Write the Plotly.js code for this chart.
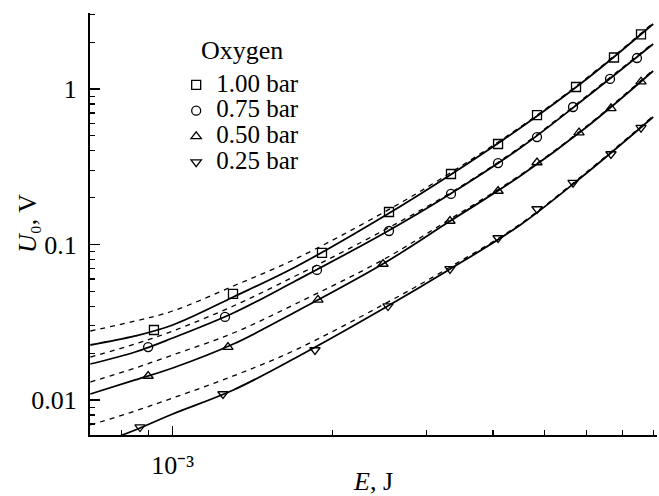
<!DOCTYPE html>
<html>
<head>
<meta charset="utf-8">
<script src="https://cdn.plot.ly/plotly-3.0.1.min.js"></script>
<style>
html,body{margin:0;padding:0;background:#fff}
#chart{width:659px;height:496px}
#chart text.legendtext{font-size:25px !important;font-family:'Liberation Serif',serif !important}
#chart g.legend g.scrollbox{clip-path:none !important}
</style>
</head>
<body>
<div id="chart"></div>
<script>
// Measured points (E in J, U0 in V)
const seriesNames = ['1.00 bar', '0.75 bar', '0.50 bar', '0.25 bar'];
const E_sq = [0.000922, 0.001298, 0.001908, 0.002550, 0.003335, 0.004088, 0.004839, 0.005729, 0.006752, 0.007590];
const U_sq = [0.0282, 0.0481, 0.0882, 0.1618, 0.284, 0.443, 0.680, 1.030, 1.594, 2.248];
const E_ci = [0.000899, 0.001254, 0.001867, 0.002550, 0.003335, 0.004088, 0.004839, 0.005655, 0.006637, 0.007458];
const U_ci = [0.0219, 0.0342, 0.0686, 0.1221, 0.2113, 0.334, 0.491, 0.766, 1.160, 1.582];
const E_tu = [0.000899, 0.001270, 0.001875, 0.002485, 0.003320, 0.004088, 0.004839, 0.005804, 0.006665, 0.007590];
const U_tu = [0.01427, 0.0219, 0.0440, 0.0749, 0.1416, 0.2208, 0.3368, 0.5236, 0.751, 1.114];
const E_td = [0.000868, 0.001243, 0.001851, 0.002539, 0.003320, 0.004088, 0.004839, 0.005655, 0.006665, 0.007590];
const U_td = [0.0067, 0.01093, 0.02097, 0.0402, 0.0696, 0.1101, 0.1692, 0.2496, 0.382, 0.5638];

// Curves (solid = fit, dashed = second model)
const E_curve = [0.0007, 0.00085, 0.001, 0.0013, 0.0017, 0.0025, 0.0033, 0.0045, 0.006, 0.008];
const fitSq  = [0.02258, 0.02580, 0.03036, 0.04597, 0.07166, 0.1525, 0.2758, 0.5613, 1.160, 2.618];
const dashSq = [0.02778, 0.03221, 0.03735, 0.05408, 0.08067, 0.1618, 0.2840, 0.5697, 1.177, 2.657];
const fitCi  = [0.01704, 0.02035, 0.02504, 0.03626, 0.05826, 0.1186, 0.2081, 0.4174, 0.8884, 1.947];
const dashCi = [0.01890, 0.02291, 0.02778, 0.04022, 0.06271, 0.1240, 0.2113, 0.4236, 0.9016, 1.976];
const fitTu  = [0.01093, 0.01345, 0.01606, 0.02291, 0.03680, 0.07603, 0.1395, 0.2758, 0.5697, 1.305];
const dashTu = [0.01305, 0.01606, 0.01948, 0.02697, 0.04144, 0.08067, 0.1437, 0.2799, 0.5782, 1.325];
const fitTd  = [0.004985, 0.006413, 0.008128, 0.0116, 0.01863, 0.03904, 0.06855, 0.1335, 0.2883, 0.6605];
const dashTd = [0.006906, 0.0085, 0.0103, 0.01427, 0.02097, 0.04144, 0.07062, 0.1355, 0.2925, 0.6705];

// Tick labels
const yTickVals = [0.01, 0.1, 1];
const yTickText = ['0.01', '0.1', '1'];
const yMinorVals = [0.006, 0.007, 0.008, 0.009, 0.02, 0.03, 0.04, 0.05, 0.06, 0.07, 0.08, 0.09,
                    0.2, 0.3, 0.4, 0.5, 0.6, 0.7, 0.8, 0.9, 2, 3];
const xTickVals = [0.001];
const xTickText = ['10⁻³'];
const xMinorVals = [0.0008, 0.0009, 0.002, 0.003, 0.004, 0.005, 0.006, 0.007, 0.008];

const FONT = 'Liberation Serif';
const FS = 26;
const symbols = ['square-open', 'circle-open', 'triangle-up-open', 'triangle-down-open'];
const pts = [[E_sq, U_sq], [E_ci, U_ci], [E_tu, U_tu], [E_td, U_td]];
const fits = [fitSq, fitCi, fitTu, fitTd];
const dashes = [dashSq, dashCi, dashTu, dashTd];

const traces = [];
for (let i = 0; i < 4; i++) {
  traces.push({
    x: E_curve, y: dashes[i], mode: 'lines', showlegend: false, hoverinfo: 'skip',
    line: {color: '#000', width: 1.3, dash: '5px,5px', shape: 'spline', smoothing: 1}
  });
  traces.push({
    x: E_curve, y: fits[i], mode: 'lines', showlegend: false, hoverinfo: 'skip',
    line: {color: '#000', width: 1.8, shape: 'spline', smoothing: 1}
  });
}
for (let i = 0; i < 4; i++) {
  traces.push({
    x: pts[i][0], y: pts[i][1], mode: 'markers', name: seriesNames[i],
    marker: {symbol: symbols[i], size: 9, color: '#000', line: {color: '#000', width: 1.3}},
    cliponaxis: false
  });
}

const layout = {
  width: 659, height: 496,
  margin: {l: 90, r: 2, t: 13, b: 61},
  paper_bgcolor: '#fff', plot_bgcolor: '#fff',
  font: {family: FONT, size: FS, color: '#000'},
  showlegend: true,
  legend: {
    x: 0.152, y: 0.872, xanchor: 'left', yanchor: 'top',
    bgcolor: 'rgba(0,0,0,0)', borderwidth: 0,
    font: {family: FONT, size: 17.5, color: '#000'},
    itemsizing: 'trace'
  },
  xaxis: {
    type: 'log',
    range: [-3.1555, -2.0897],
    showline: true, linecolor: '#000', linewidth: 2, mirror: false,
    showgrid: false, zeroline: false,
    tickmode: 'array', tickvals: xTickVals, ticktext: xTickText,
    ticks: 'inside', ticklen: 9, tickwidth: 1.5, tickcolor: '#000',
    tickfont: {family: FONT, size: FS, color: '#000'},
    ticklabelstandoff: 6,
    minor: {tickmode: 'array', tickvals: xMinorVals, ticks: 'inside', ticklen: 5, tickwidth: 1.2, tickcolor: '#000', showgrid: false},
    title: {text: '<i>E</i>, J', font: {family: FONT, size: FS, color: '#000'}, standoff: 4}
  },
  yaxis: {
    type: 'log',
    range: [-2.2251, 0.4887],
    showline: true, linecolor: '#000', linewidth: 2, mirror: false,
    showgrid: false, zeroline: false,
    tickmode: 'array', tickvals: yTickVals, ticktext: yTickText,
    ticks: 'inside', ticklen: 10, tickwidth: 1.5, tickcolor: '#000',
    tickfont: {family: FONT, size: FS, color: '#000'},
    ticklabelstandoff: 6,
    minor: {tickmode: 'array', tickvals: yMinorVals, ticks: 'inside', ticklen: 5, tickwidth: 1.2, tickcolor: '#000', showgrid: false}
  },
  annotations: [{
    text: '<i>U</i>₀, V', textangle: -90,
    xref: 'paper', yref: 'paper', x: -0.111, y: 0.5, xanchor: 'center', yanchor: 'middle',
    showarrow: false, font: {family: FONT, size: FS, color: '#000'}
  }, {
    text: 'Oxygen',
    xref: 'paper', yref: 'paper', x: 0.1922, y: 0.912, xanchor: 'left', yanchor: 'middle',
    showarrow: false, font: {family: FONT, size: FS, color: '#000'}
  }]
};

Plotly.newPlot('chart', traces, layout, {displayModeBar: false, staticPlot: true});
</script>
</body>
</html>
